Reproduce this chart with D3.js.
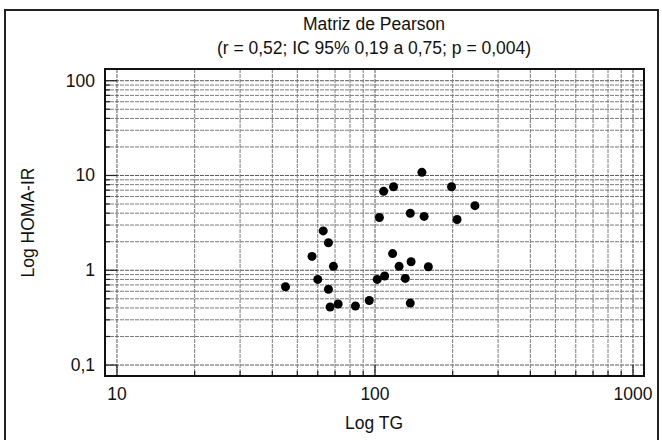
<!DOCTYPE html>
<html>
<head>
<meta charset="utf-8">
<script src="https://cdn.jsdelivr.net/npm/d3@7"></script>
<style>
  body { margin: 0; background: #fff; }
  text { font-family: "Liberation Sans", Arial, sans-serif; fill: #111; }
</style>
</head>
<body>
<svg id="chart" width="662" height="440"></svg>
<script>
// TG (x) and HOMA-IR (y)
const tg = [45, 57, 63, 66, 69, 60, 66, 67, 72, 84, 95, 102, 104, 108, 118, 152, 117, 124, 138, 131, 109, 137, 155, 161, 137, 198, 208, 244];
const homa = [0.67, 1.4, 2.6, 1.95, 1.1, 0.8, 0.63, 0.41, 0.44, 0.42, 0.48, 0.8, 3.6, 6.8, 7.6, 10.8, 1.5, 1.1, 1.23, 0.82, 0.87, 4.0, 3.7, 1.09, 0.45, 7.6, 3.43, 4.8];

const xTicks = [10, 100, 1000];
const yTicks = [0.1, 1, 10, 100];
const xLabels = ["10", "100", "1000"];
const yLabels = ["0,1", "1", "10", "100"];

const TITLE = "Matriz de Pearson";
const SUBTITLE = "(r = 0,52; IC 95% 0,19 a 0,75; p = 0,004)";

const LEFT = 105, RIGHT = 644, TOP = 69, BOTTOM = 376;
const FONT = "17.5px";

let svg = d3.select("#chart");

let x = d3.scaleLog().domain([8.986, 1103]).range([LEFT, RIGHT]);
let y = d3.scaleLog().domain([0.0766, 132.9]).range([BOTTOM, TOP]);

// every 1..9 step inside each decade
function decadeSteps(from, to) {
  let out = [];
  for (let p = from; p <= to; p *= 10) {
    for (let k = 1; k <= 9; k++) out.push(k * p);
  }
  return out;
}

let xGrid = decadeSteps(10, 100).concat([1000]);
let yGrid = decadeSteps(0.1, 10).concat([100]);

let isMajor = function(d) { return Math.abs(Math.log10(d) - Math.round(Math.log10(d))) < 1e-9; };

// outer frame
svg.append("rect")
  .attr("x", 5).attr("y", 10)
  .attr("width", 653).attr("height", 440)
  .attr("fill", "none")
  .attr("stroke", "#222")
  .attr("stroke-width", 2);

// grid
svg.append("g").selectAll("line").data(yGrid).enter().append("line")
  .attr("x1", LEFT).attr("x2", RIGHT)
  .attr("y1", function(d) { return y(d); })
  .attr("y2", function(d) { return y(d); })
  .attr("stroke", function(d) { return isMajor(d) ? "#5a5a5a" : "#7c7c7c"; })
  .attr("stroke-dasharray", "4,1");

svg.append("g").selectAll("line").data(xGrid).enter().append("line")
  .attr("y1", TOP).attr("y2", BOTTOM)
  .attr("x1", function(d) { return x(d); })
  .attr("x2", function(d) { return x(d); })
  .attr("stroke", function(d) { return isMajor(d) ? "#5a5a5a" : "#7c7c7c"; })
  .attr("stroke-dasharray", "4,1");

// inner ticks, long at the decades
svg.append("g").selectAll("line").data(yGrid).enter().append("line")
  .attr("x1", LEFT)
  .attr("x2", function(d) { return LEFT + (isMajor(d) ? 12 : 5); })
  .attr("y1", function(d) { return y(d); })
  .attr("y2", function(d) { return y(d); })
  .attr("stroke", "#222")
  .attr("stroke-width", 1.2);

svg.append("g").selectAll("line").data(xGrid).enter().append("line")
  .attr("y1", BOTTOM)
  .attr("y2", function(d) { return BOTTOM - (isMajor(d) ? 11 : 5); })
  .attr("x1", function(d) { return x(d); })
  .attr("x2", function(d) { return x(d); })
  .attr("stroke", "#222")
  .attr("stroke-width", 1.2);

// plot frame
svg.append("rect")
  .attr("x", LEFT).attr("y", TOP)
  .attr("width", RIGHT - LEFT).attr("height", BOTTOM - TOP)
  .attr("fill", "none")
  .attr("stroke", "#111")
  .attr("stroke-width", 2);

// tick labels
svg.append("g").selectAll("text").data(yTicks).enter().append("text")
  .attr("x", 95)
  .attr("y", function(d) { return y(d) + 6; })
  .attr("text-anchor", "end")
  .style("font-size", FONT)
  .text(function(d, i) { return yLabels[i]; });

svg.append("g").selectAll("text").data(xTicks).enter().append("text")
  .attr("x", function(d) { return x(d); })
  .attr("y", 400)
  .attr("text-anchor", "middle")
  .style("font-size", FONT)
  .text(function(d, i) { return xLabels[i]; });

// titles
svg.append("text").attr("x", 374).attr("y", 30)
  .attr("text-anchor", "middle").style("font-size", FONT).text(TITLE);
svg.append("text").attr("x", 374).attr("y", 54)
  .attr("text-anchor", "middle").style("font-size", FONT).text(SUBTITLE);

svg.append("text").attr("x", 374).attr("y", 429)
  .attr("text-anchor", "middle").style("font-size", FONT).text("Log TG");

svg.append("text")
  .attr("transform", "translate(34," + ((TOP + BOTTOM) / 2) + ") rotate(-90)")
  .attr("text-anchor", "middle")
  .style("font-size", FONT)
  .text("Log HOMA-IR");

// points
svg.append("g").selectAll("circle").data(tg).enter().append("circle")
  .attr("cx", function(d) { return x(d); })
  .attr("cy", function(d, i) { return y(homa[i]); })
  .attr("r", 4.5)
  .attr("fill", "#000");
</script>
</body>
</html>
